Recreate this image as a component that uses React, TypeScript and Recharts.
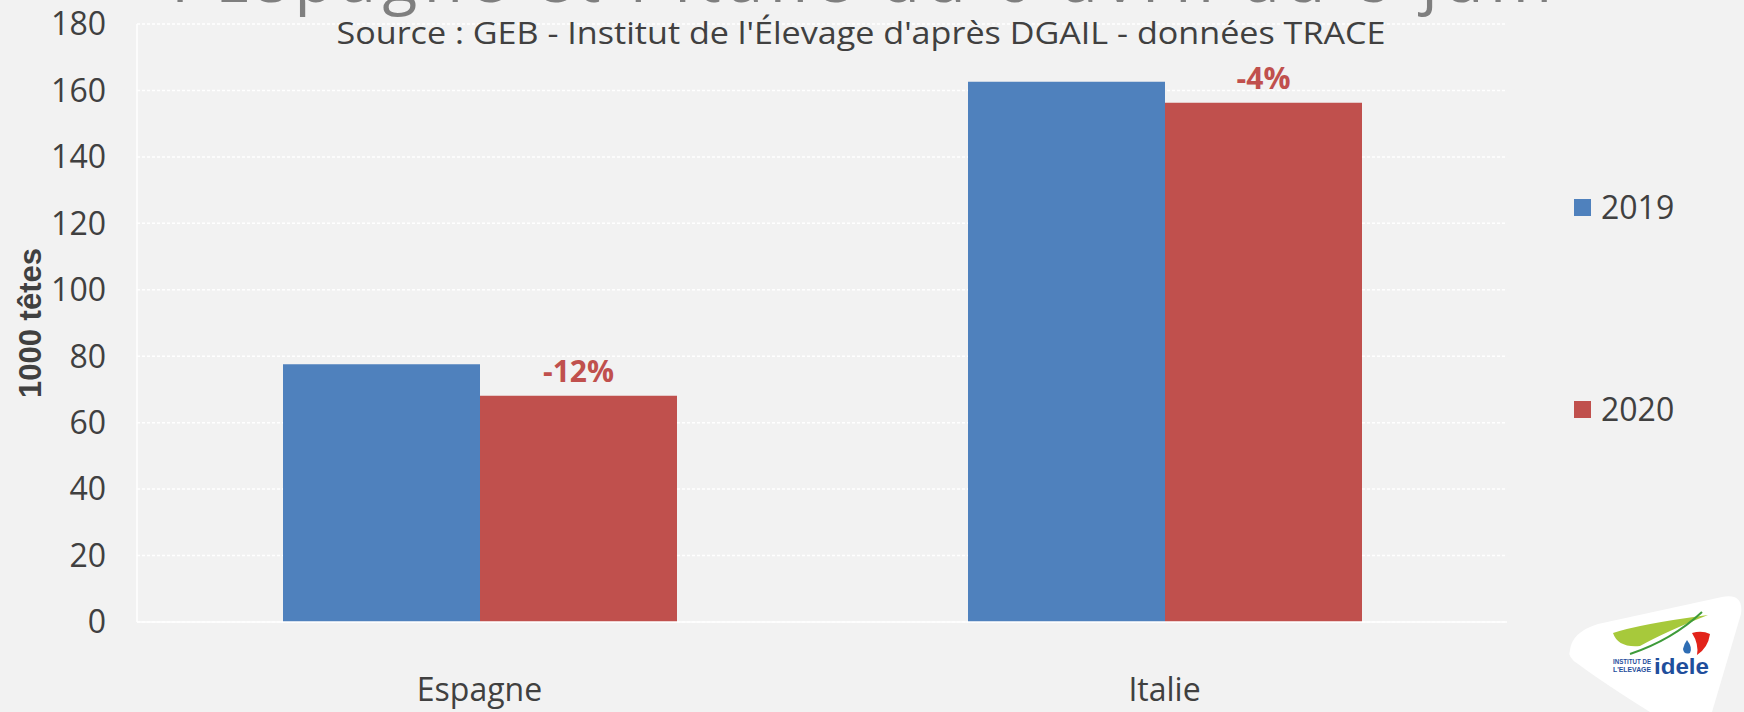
import React from 'react';
import {
  BarChart,
  Bar,
  XAxis,
  YAxis,
  CartesianGrid,
  LabelList,
} from 'recharts';

/* ---------- DATA ---------- */
const countries = ['Espagne', 'Italie'];
const heads2019 = [77.6, 162.6];
const heads2020 = [68.1, 156.3];
const changeLabels = ['-12%', '-4%'];
const yTicks = [0, 20, 40, 60, 80, 100, 120, 140, 160, 180];
const seriesNames = ['2019', '2020'];
const seriesColors = ['#4F81BD', '#C0504D'];

const titleText = "l'Espagne et l'Italie du 6 avril au 8 juin";
const sourceText =
  "Source : GEB - Institut de l'Élevage d'après DGAIL - données TRACE";

const chartData = countries.map((country, i) => ({
  country,
  y2019: heads2019[i],
  y2020: heads2020[i],
  change: changeLabels[i],
}));

const FONT = '"Open Sans", "DejaVu Sans", sans-serif';
const TEXT = '#404040';
const W = 1744;
const H = 712;

const Logo: React.FC = () => (
  <g>
    <path
      d="M1570,650 Q1572,632 1598,624 L1722,597 Q1744,593 1741,614 L1712,712 L1650,712 Q1605,684 1578,664 Q1567,657 1570,650 Z"
      fill="#ffffff"
    />
    <path
      d="M1613,633 Q1640,624 1708,615 Q1665,632 1640,646 Q1618,648 1613,633 Z"
      fill="#A7C93B"
    />
    <path
      d="M1630,654 Q1672,640 1702,612"
      stroke="#3E9B3A"
      strokeWidth={2}
      fill="none"
    />
    <path
      d="M1692,633 Q1702,630 1710,634 Q1708,648 1697,655 Q1699,644 1692,633 Z"
      fill="#E2231A"
    />
    <path
      d="M1687,640 Q1693,648 1690,653 Q1684,655 1683,649 Q1684,644 1687,640 Z"
      fill="#2E6DB4"
    />
    <text
      x={1613}
      y={664}
      fontFamily='"Liberation Sans Narrow", "Liberation Sans", sans-serif'
      fontWeight={700}
      fontSize={7}
      fill="#1F4E9C"
      textLength={38}
      lengthAdjust="spacingAndGlyphs"
    >
      INSTITUT DE
    </text>
    <text
      x={1613}
      y={672}
      fontFamily='"Liberation Sans Narrow", "Liberation Sans", sans-serif'
      fontWeight={700}
      fontSize={7}
      fill="#1F4E9C"
      textLength={38}
      lengthAdjust="spacingAndGlyphs"
    >
      L'ELEVAGE
    </text>
    <text
      x={1654}
      y={674}
      fontFamily='"Liberation Sans", sans-serif'
      fontWeight={700}
      fontSize={22}
      fill="#1F4E9C"
      textLength={55}
      lengthAdjust="spacingAndGlyphs"
    >
      idele
    </text>
  </g>
);

export default function App() {
  return (
    <div
      style={{
        position: 'absolute',
        left: 0,
        top: 0,
        width: W,
        height: H,
        background: '#F2F2F2',
        overflow: 'hidden',
      }}
    >
      <BarChart
        width={W}
        height={H}
        data={chartData}
        margin={{ top: 24, right: 237, left: 0, bottom: 0 }}
        barCategoryGap={146}
        barGap={0}
      >
        <CartesianGrid
          vertical={false}
          stroke="#ffffff"
          strokeDasharray="3 2"
          strokeWidth={1.5}
        />
        <XAxis
          xAxisId="edge"
          type="number"
          domain={[0, 2]}
          ticks={[0, 1, 2]}
          tick={false}
          tickSize={10}
          tickLine={{ stroke: '#ffffff', strokeWidth: 1.5 }}
          axisLine={false}
          height={0}
        />
        <XAxis
          dataKey="country"
          height={90}
          axisLine={{ stroke: '#ffffff', strokeWidth: 1.5 }}
          tickLine={false}
          tickSize={10}
          tickMargin={46}
          tick={{ fontSize: 32, fill: TEXT, fontFamily: FONT }}
        />
        <YAxis
          width={137}
          domain={[0, 180]}
          ticks={yTicks}
          interval={0}
          axisLine={{ stroke: '#ffffff', strokeWidth: 1.5 }}
          tickLine={false}
          tickSize={6}
          tickMargin={25}
          tick={{ fontSize: 32, fill: TEXT, fontFamily: FONT }}
          label={{
            value: '1000 têtes',
            angle: -90,
            position: 'insideLeft',
            offset: 0,
            dx: 30,
            fontSize: 31,
            fontWeight: 700,
            fill: TEXT,
            fontFamily: '"Liberation Sans", sans-serif',
            style: { textAnchor: 'middle' },
          }}
        />
        <Bar
          dataKey="y2019"
          name={seriesNames[0]}
          fill={seriesColors[0]}
          isAnimationActive={false}
        />
        <Bar
          dataKey="y2020"
          name={seriesNames[1]}
          fill={seriesColors[1]}
          isAnimationActive={false}
        >
          <LabelList
            dataKey="change"
            position="top"
            offset={14}
            fill={seriesColors[1]}
            fontSize={30}
            fontWeight={700}
            fontFamily={FONT}
          />
        </Bar>
      </BarChart>

      {/* title, source, legend and logo sit on top of the chart */}
      <svg
        width={W}
        height={H}
        style={{ position: 'absolute', left: 0, top: 0, pointerEvents: 'none' }}
      >
        <text
          x={172}
          y={2}
          fontSize={64}
          fontFamily={FONT}
          fill="#7F7F7F"
          textLength={1380}
          lengthAdjust="spacing"
        >
          {titleText}
        </text>
        <text
          x={861}
          y={44}
          textAnchor="middle"
          fontSize={31}
          fontFamily={FONT}
          fill={TEXT}
          textLength={1049}
          lengthAdjust="spacingAndGlyphs"
        >
          {sourceText}
        </text>
        {seriesNames.map((name, i) => (
          <g key={name}>
            <rect
              x={1574}
              y={199 + i * 202}
              width={17}
              height={17}
              fill={seriesColors[i]}
            />
            <text
              x={1601}
              y={219 + i * 202}
              fontSize={32}
              fontFamily={FONT}
              fill={TEXT}
            >
              {name}
            </text>
          </g>
        ))}
        <Logo />
      </svg>
    </div>
  );
}
